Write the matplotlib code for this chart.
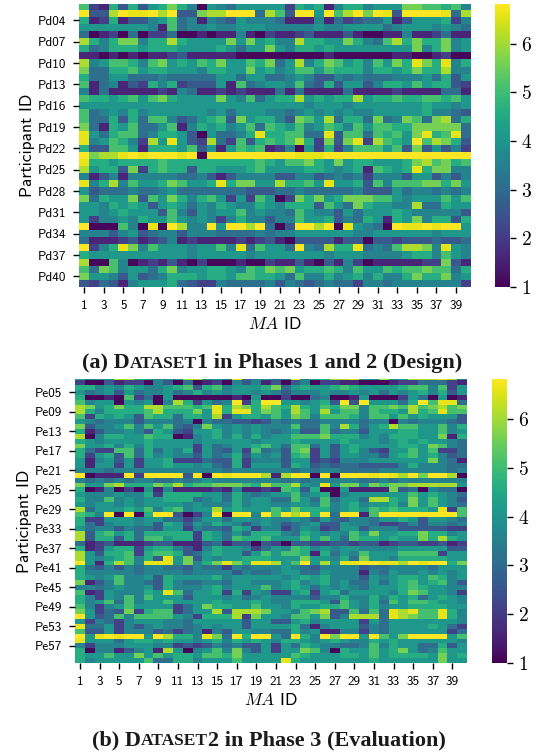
import numpy as np
import matplotlib
matplotlib.use("Agg")
import matplotlib.pyplot as plt

plt.rcParams['mathtext.fontset'] = 'cm'
plt.rcParams['font.family'] = ['cmss10', 'DejaVu Sans']

# Scores per row, one hex digit per cell: digit = (score - 1) * 2, c is the top of the scale
design_rows = [
    "8217373679 7506546666 6276715775 6669988785",
    "c33acbbcac 339aaccc4a 83cc6c8ac9 cb3ccccb4a",
    "7127133568 4515436555 4111514234 4613666725",
    "6666666518 4556556665 5555655666 6456665654",
    "4012040224 0010115102 1123111310 0115112411",
    "a75799577a 7666696967 55a7766975 48a7977956",
    "7457776777 6666764669 6577676666 6666957956",
    "1101010112 3111110000 0000010000 0011001200",
    "a568875896 7687966879 46a5798675 8697b97b57",
    "9447786776 6657766967 5688687775 7767977a55",
    "7446644454 4444664664 4565335454 4455564736",
    "8145132757 2333618456 6584373663 5776867732",
    "5141111121 5411212111 4141111411 1121111441",
    "8776786897 6666965846 77a67677a6 7787788786",
    "6666666666 6666666666 6665666566 6666676656",
    "8456575666 6665646665 5456565655 6666675543",
    "8447374885 3467839677 53986a4774 9459849a47",
    "9417684468 1576756848 7685687586 8877999994",
    "b647884577 63064457b7 78844b3884 87869b78b4",
    "b568752a6b 632a428378 78a72939b2 a876c8a973",
    "7338861777 6836168781 2506272588 8683936352",
    "c9aabcbccc bc0ccccccc ccbbbccccc cccccccccc",
    "b776777787 7777777787 6889769677 66679a8978",
    "a677392787 7377666786 6667765671 8767b79955",
    "5135155555 4453135555 3355345452 5553663535",
    "b57a586679 8667b79966 a7786b6673 8588899796",
    "6344454456 4444444333 4454444453 3364554545",
    "9476693869 7578626286 0297967999 8865666868",
    "6657676367 6465765576 5777386497 6655a44766",
    "6656766638 5365668565 5486553646 6676555553",
    "6255657668 6565257553 5586673547 6176957737",
    "c000850b0c a55c6ccac4 03ccac0b65 40cbbcbcc6",
    "5553563455 3555444454 5566666655 6666665666",
    "4111231235 1211112123 1033331330 3323334334",
    "c257b95866 656685b486 64c54a77b4 548aa95b65",
    "7666666666 6566666566 6666656665 5556775865",
    "a008501213 1020001002 1131031520 1111122931",
    "8498566479 5667765879 8967787586 6878898847",
    "9665363457 7767768877 6485575675 7557977956",
    "3243156667 4322544445 3543454425 5455555552",
]

evaluation_rows = [
    "7566aa7756 6aa665b456 45c577aab6 6a66aaaba5",
    "2003122053 0401205351 3035022110 0012244421",
    "7756576556 7837856667 9467667876 6667885826",
    "6456364556 4575656656 5355565565 6465675736",
    "7001082406 0000001060 0200450016 0002640601",
    "8566065605 a72645c27c c665673c3c 66647c8bb4",
    "a967977aa8 8878b7a97a 87a7687995 8898a89a89",
    "a7577778a7 7796b7bb79 86a86a6885 8776a78b88",
    "8276763877 4776a26776 8698588875 8868676663",
    "6545553555 4505443323 5454455554 5505455543",
    "9355685868 4359656565 5584485a74 67a8866857",
    "7135565376 3266756565 4563384553 6667766856",
    "a057766877 0156757575 6688897775 6577766917",
    "7656666766 6656666656 6676666766 6567676654",
    "9667575766 6626456678 6488463676 6667769854",
    "7422884746 5726436284 5389263675 3266868224",
    "7267384756 5536457365 6378263665 5367867534",
    "6156362667 2224337255 5366232555 6666669541",
    "6166262667 6656437266 6376343443 3335755544",
    "5554555555 5555545555 5545455444 4555555545",
    "c0111c2ccc c3c0cbccca 1acc0c0ccc bcbac9cca0",
    "5454545544 5456555555 5454555554 4545555555",
    "9669a77798 a78899987a 88a65b6996 9899aaaaa6",
    "7015020615 1111215112 1873700611 1193405440",
    "6555655727 7776647545 6685670566 6666867654",
    "7558565667 7745647566 4486484664 aa76968653",
    "6566565666 6565557566 5566585675 6675968654",
    "a466676857 8566a67666 8697775676 8787776b28",
    "875c0c07cc 3025c0cc5c 8cac7c4cc1 8cccccccc8",
    "7226665664 4246646656 5565364355 4667636654",
    "7425665637 6365765356 5345633655 4223535545",
    "6455354436 6254437625 5246523663 5553333322",
    "a378674777 7727646477 7547656586 9667797756",
    "a377374886 7727648778 6668686487 7676697a76",
    "4123111233 1113413303 2033223323 3123322312",
    "7126772677 5315766524 6587565665 5556666633",
    "a637782788 7346766368 6887174658 6668888266",
    "a65678573b 6936566777 6669665749 6657777766",
    "c617a85bbb 69579b97bb a68c6a6bbc cbbacbcc79",
    "7435354554 4354425455 5654355553 4455554666",
    "7555554555 5455553544 5664465551 5465565656",
    "7656855637 6666756666 6567675553 6567768756",
    "9135855437 5445546655 5675675644 6467867853",
    "5545655637 5556756668 5676465654 6667876655",
    "812655576b 8466727265 2267267466 6657986652",
    "7526585866 6366656456 5555355755 7576746765",
    "7568485668 6666766676 5577763865 7486887665",
    "8525686666 2469776686 6576677865 7566777766",
    "9624392788 2466a3aaa9 66589a3384 84bab88b75",
    "c634858888 652777a296 65886935aa a4ba988b75",
    "6254256665 5466666366 3367566662 6466666665",
    "b446253565 5456566366 6674156663 5466667642",
    "8336255534 2451536655 4475611552 5466666624",
    "c6bcbcc6ca 775b94c7cc 64c75c9cc6 c869cccc68",
    "b666467767 6656757676 5776567655 7676666665",
    "5255566655 2323545336 2647655445 8576644736",
    "705513561a 6056859536 2669850766 8679645866",
    "7668669686 7768879666 6687666776 8677776967",
    "7566666844 7756668666 6b76666666 7666666966",
]

design_ticks = [f'Pd{n:02d}' for n in range(4, 41, 3)]
evaluation_ticks = [f'Pe{n:02d}' for n in range(5, 58, 4)]
ma_ticks = list(range(1, 40, 2))
score_ticks = [1, 2, 3, 4, 5, 6]
vmin, vmax = 1, 6.82

W, H = 543, 753


def decode_rows(rows : list) -> np.ndarray:
    """
    Turn the hex digit rows into a matrix of scores

    :param rows: the rows as strings
    :return: the matrix
    """
    # the half point readings came out a little low, so they sit at 0.1 above the step
    return np.array([[min(int(c, 16) / 2 + 1.1, 6.82) for c in r.replace(' ', '')] for r in rows])


def box(left, top, right, bottom):
    # pixel box of the reference to figure fractions
    return [left / W, 1 - bottom / H, (right - left) / W, (bottom - top) / H]


def draw_heatmap(fig, rows, first_row, step, ticks, ax_box, cax_box, top_crop):
    ax = fig.add_axes(box(*ax_box))
    data = decode_rows(rows)
    mesh = ax.pcolormesh(data, cmap='viridis', vmin=vmin, vmax=vmax)
    ax.set_xlim(0, data.shape[1])
    ax.set_ylim(data.shape[0], top_crop)
    for spine in ax.spines.values():
        spine.set_visible(False)

    ax.set_xticks([t - 0.5 for t in ma_ticks], [str(t) for t in ma_ticks], fontsize=9.5)
    ax.set_yticks(np.arange(len(ticks)) * step + first_row + 0.5, ticks, fontsize=9.5)
    ax.tick_params(length=4.5, width=1, pad=5)
    ax.set_xlabel('$MA$ ID', fontsize=12.5, labelpad=3)
    ax.set_ylabel('Participant ID', fontsize=12.5, labelpad=2)

    cax = fig.add_axes(box(*cax_box))
    cbar = fig.colorbar(mesh, cax=cax)
    cbar.outline.set_visible(False)
    cbar.set_ticks(score_ticks, labels=[f'${t}$' for t in score_ticks])
    cbar.ax.tick_params(length=4.5, width=1, labelsize=14, pad=4)
    return ax


def draw_caption(fig, pieces, x_center, y):
    """
    Draw a caption from (text, size) pieces side by side, for the small caps

    :param pieces: the text pieces with their font sizes
    :param x_center: centre of the caption in pixels
    :param y: baseline of the caption in pixels
    """
    renderer = fig.canvas.get_renderer()
    items = [fig.text(0, 1 - y / H, t, fontsize=s, family='Liberation Serif', weight='bold',
                      color='#1a1a1a', va='baseline') for t, s in pieces]
    widths = []
    for item, (t, s) in zip(items, pieces):
        # measure with a guard so that edge spaces count
        item.set_text('|' + t + '|')
        full = item.get_window_extent(renderer).width
        item.set_text('||')
        widths.append(full - item.get_window_extent(renderer).width)
        item.set_text(t)
    x = x_center - sum(widths) / 2
    for item, width in zip(items, widths):
        item.set_x(x / W)
        x += width


fig = plt.figure(figsize=(W / 100, H / 100), dpi=100)

draw_heatmap(fig, design_rows, 2, 3, design_ticks, (79.3, 4, 470.7, 287), (495, 4, 509.5, 287), 0.2)
draw_heatmap(fig, evaluation_rows, 3, 4, evaluation_ticks, (75, 379, 467, 663), (492, 379, 506.5, 663), 0.75)

big, small = 16, 12.5
draw_caption(fig, [('(a) D', big), ('ATASET', small), ('1 in Phases 1 and 2 (Design)', big)], 272.5, 368)
draw_caption(fig, [('(b) D', big), ('ATASET', small), ('2 in Phase 3 (Evaluation)', big)], 269, 745)

fig.savefig('out.png', dpi=100)
